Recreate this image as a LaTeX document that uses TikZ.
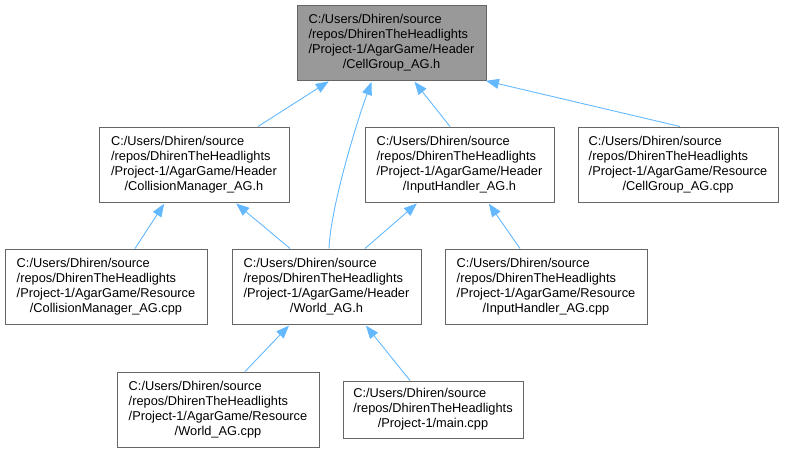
\documentclass[tikz,border=0pt]{standalone}
\usepackage{fontspec}
\setmainfont{Liberation Sans}
\usepackage{xcolor}
\usepackage{tikz}
\usetikzlibrary{arrows.meta, positioning}
\definecolor{edgeblue}{HTML}{63B8FF}
\definecolor{boxgray}{HTML}{666666}
\definecolor{rootfill}{HTML}{999999}
\newcommand{\fpath}[2]{\begin{tabular}{@{}l@{}}#1\\\multicolumn{1}{@{}c@{}}{#2}\end{tabular}}

\begin{document}
\begin{tikzpicture}[x=1pt, y=-1pt,
    file/.style={draw=boxgray, line width=1pt, fill=white, inner sep=0pt, minimum height=75pt, align=center, font=\fontsize{12.8}{15}\selectfont},
    root/.style={file, fill=rootfill},
    arr/.style={{Triangle[length=13pt, width=10pt]}-, draw=edgeblue, line width=0.9pt, shorten <=1.5pt}
]
    \useasboundingbox (0,0) rectangle (785,453);

    % Root header
    \node[root, minimum width=189pt] (cell) at (391.5, 42.5) {\fpath{C:/Users/Dhiren/source\\/repos/DhirenTheHeadlights\\/Project-1/AgarGame/Header}{/CellGroup\_AG.h}};

    % Second row
    \node[file, minimum width=190pt] (cmh) at (194, 164.5) {\fpath{C:/Users/Dhiren/source\\/repos/DhirenTheHeadlights\\/Project-1/AgarGame/Header}{/CollisionManager\_AG.h}};
    \node[file, minimum width=189pt] (ihh) at (459.5, 164.5) {\fpath{C:/Users/Dhiren/source\\/repos/DhirenTheHeadlights\\/Project-1/AgarGame/Header}{/InputHandler\_AG.h}};
    \node[file, minimum width=200pt] (cgcpp) at (678, 164.5) {\fpath{C:/Users/Dhiren/source\\/repos/DhirenTheHeadlights\\/Project-1/AgarGame/Resource}{/CellGroup\_AG.cpp}};

    % Third row
    \node[file, minimum width=202pt] (cmcpp) at (106, 286.5) {\fpath{C:/Users/Dhiren/source\\/repos/DhirenTheHeadlights\\/Project-1/AgarGame/Resource}{/CollisionManager\_AG.cpp}};
    \node[file, minimum width=189pt] (world) at (326.5, 286.5) {\fpath{C:/Users/Dhiren/source\\/repos/DhirenTheHeadlights\\/Project-1/AgarGame/Header}{/World\_AG.h}};
    \node[file, minimum width=202pt] (ihcpp) at (546, 286.5) {\fpath{C:/Users/Dhiren/source\\/repos/DhirenTheHeadlights\\/Project-1/AgarGame/Resource}{/InputHandler\_AG.cpp}};

    % Bottom row
    \node[file, minimum width=202pt] (wcpp) at (218, 409.5) {\fpath{C:/Users/Dhiren/source\\/repos/DhirenTheHeadlights\\/Project-1/AgarGame/Resource}{/World\_AG.cpp}};
    \node[file, minimum width=180pt, minimum height=57pt] (mcpp) at (433, 409.5) {\fpath{C:/Users/Dhiren/source\\/repos/DhirenTheHeadlights}{/Project-1/main.cpp}};

    % Includes of the root header
    \draw[arr] ([xshift=-61.5pt]cell.south) -- ([xshift=64pt]cmh.north);
    \draw[arr] ([xshift=-19.5pt]cell.south) .. controls ([xshift=-36pt, yshift=-45pt]cell.south) and ([xshift=4pt, yshift=40pt]world.north) .. ([xshift=2.5pt]world.north);
    \draw[arr] ([xshift=22pt]cell.south) -- ([xshift=-9.5pt]ihh.north);
    \draw[arr] ([xshift=-2pt]cell.south east) -- ([xshift=2pt]cgcpp.north);

    % Second level
    \draw[arr] ([xshift=-29pt]cmh.south) -- ([xshift=29pt]cmcpp.north);
    \draw[arr] ([xshift=41pt]cmh.south) -- ([xshift=-36.5pt]world.north);
    \draw[arr] ([xshift=-41.5pt]ihh.south) -- ([xshift=38.5pt]world.north);
    \draw[arr] ([xshift=28.5pt]ihh.south) -- ([xshift=-26pt]ihcpp.north);

    % Third level
    \draw[arr] ([xshift=-36.5pt]world.south) -- ([xshift=27pt]wcpp.north);
    \draw[arr] ([xshift=38.5pt]world.south) -- ([xshift=-23pt]mcpp.north);
\end{tikzpicture}
\end{document}
